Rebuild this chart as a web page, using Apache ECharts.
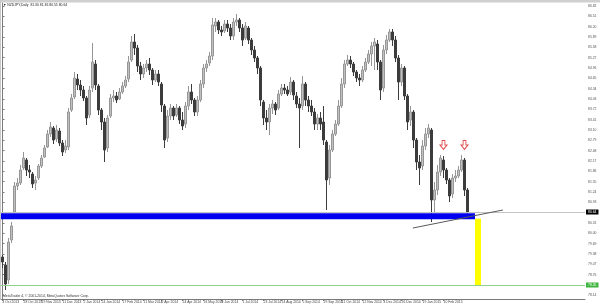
<!DOCTYPE html>
<html><head><meta charset="utf-8">
<script src="https://cdn.jsdelivr.net/npm/echarts@6/dist/echarts.min.js"></script>
<style>html,body{margin:0;padding:0;background:#fff}#c{width:600px;height:305px}</style>
</head><body><div id="c"></div>
<script>
const symbolTitle = 'NZDJPY,Daily';
const opens = [79.29,79.05,78.60,79.80,80.64,81.42,81.51,81.96,82.20,81.90,
81.78,81.51,81.66,82.02,82.29,82.59,82.98,83.16,82.83,83.07,
82.71,82.50,82.59,83.70,84.09,84.63,84.45,84.30,84.06,83.55,
84.36,85.08,84.42,83.70,83.34,82.56,83.52,84.06,84.12,84.03,
84.24,84.42,84.63,85.20,85.74,85.56,85.02,84.78,84.96,85.08,
84.90,84.60,84.78,84.48,83.82,82.86,83.52,83.76,83.55,83.76,
83.40,83.28,83.82,84.24,84.00,83.64,84.00,84.48,84.96,85.11,
85.32,86.22,86.34,86.10,86.07,86.28,86.16,85.92,86.34,86.40,
86.16,85.86,86.16,85.80,85.50,85.26,84.96,83.94,83.46,83.34,
83.76,83.88,83.76,84.18,84.36,84.30,84.24,84.54,84.12,83.88,
83.82,84.48,84.00,83.82,83.64,83.28,83.46,83.34,82.74,81.66,
82.50,82.98,83.28,83.82,84.48,85.08,85.20,85.08,84.84,84.66,
84.60,84.90,85.14,85.38,85.62,85.68,85.14,84.36,85.50,85.80,
86.04,85.80,85.26,84.54,84.96,84.12,83.40,83.64,82.80,82.14,
82.02,82.62,82.98,83.10,81.00,81.30,81.84,82.20,81.90,81.60,
81.18,81.66,81.72,81.90,82.20,81.30];
const closes = [79.14,78.48,79.74,80.22,81.42,81.51,81.90,82.26,81.90,81.84,
81.48,81.60,82.02,82.26,82.56,82.98,83.19,82.80,83.10,82.71,
82.44,82.62,83.64,84.06,84.66,84.45,84.30,84.06,83.46,84.30,
85.14,84.45,83.70,83.34,82.50,83.46,84.06,84.12,84.00,84.24,
84.42,84.60,85.14,85.74,85.56,85.02,84.78,84.96,85.08,84.90,
84.60,84.78,84.54,83.85,82.80,83.52,83.76,83.52,83.76,83.40,
83.22,83.82,84.24,84.00,83.64,84.00,84.48,84.96,85.08,85.32,
86.25,86.34,86.10,86.04,86.28,86.16,85.92,86.34,86.40,86.16,
85.80,86.22,85.80,85.50,85.26,84.96,84.00,83.46,83.34,83.76,
83.88,83.70,84.18,84.36,84.30,84.18,84.54,84.15,83.88,83.76,
84.48,84.00,83.82,83.64,83.28,83.46,83.28,82.80,81.60,82.50,
82.98,83.28,83.82,84.48,85.08,85.20,85.08,84.84,84.66,84.60,
84.90,85.14,85.38,85.62,85.74,85.14,84.30,85.50,85.80,86.04,
85.80,85.26,84.54,84.96,84.12,83.34,83.64,82.80,82.14,81.96,
82.62,82.98,83.16,81.00,81.30,81.84,82.26,81.90,81.60,81.12,
81.66,81.72,81.90,82.20,81.30,80.64];
const lows = [78.96,78.30,78.48,79.71,80.52,81.30,81.45,81.90,81.72,81.66,
81.36,81.30,81.60,81.96,82.26,82.56,82.89,82.68,82.74,82.62,
82.32,82.41,82.50,83.64,84.03,84.30,84.12,83.97,83.25,83.46,
84.24,84.30,83.55,83.10,82.14,82.44,83.46,83.94,83.91,84.00,
84.18,84.36,84.54,85.14,85.35,84.84,84.60,84.66,84.84,84.75,
84.45,84.54,84.42,83.64,82.56,82.74,83.40,83.40,83.49,83.28,
83.10,83.16,83.70,83.88,83.52,83.52,83.94,84.36,84.84,85.02,
85.20,86.04,85.98,85.92,86.01,86.04,85.80,85.80,86.22,86.04,
85.62,85.80,85.68,85.35,85.14,84.78,83.82,83.25,83.10,82.95,
83.58,83.55,83.70,84.12,84.18,84.12,84.15,84.00,83.76,82.56,
83.70,83.82,83.64,83.52,83.10,83.10,83.10,82.65,80.70,81.45,
82.44,82.92,83.22,83.76,84.36,85.02,84.96,84.72,84.54,84.42,
84.54,84.84,85.08,85.02,84.90,84.90,84.00,84.24,85.38,85.74,
85.62,85.14,84.00,84.42,84.00,83.10,83.22,82.56,81.90,81.45,
81.90,82.50,82.86,80.34,80.55,81.15,81.72,81.66,81.48,80.94,
81.06,81.54,81.66,81.84,81.12,80.55];
const highs = [79.35,79.14,79.86,80.34,81.54,81.66,82.05,82.44,82.26,82.05,
81.84,81.72,82.08,82.35,82.65,83.10,83.34,83.22,83.25,83.16,
82.80,82.80,83.76,84.18,84.84,84.78,84.60,84.42,84.12,84.42,
85.71,85.20,84.48,83.76,83.46,83.55,84.18,84.30,84.24,84.36,
84.54,84.72,85.32,85.92,85.98,85.65,85.14,85.08,85.20,85.26,
84.96,84.90,84.90,84.54,83.88,83.70,83.88,83.82,83.88,83.82,
83.64,83.94,84.42,84.48,84.06,84.12,84.60,85.08,85.20,85.44,
86.46,86.46,86.40,86.22,86.40,86.40,86.28,86.46,86.58,86.46,
86.28,86.34,86.22,85.86,85.62,85.32,85.02,84.00,83.70,83.88,
84.00,83.94,84.30,84.48,84.48,84.42,84.69,84.60,84.24,84.06,
84.72,84.54,84.12,84.00,83.76,83.58,83.64,83.82,82.80,82.65,
83.10,83.40,84.00,84.66,85.20,85.35,85.32,85.14,84.90,84.78,
85.02,85.26,85.50,85.74,85.86,85.80,85.20,85.65,85.95,86.13,
86.13,85.92,85.35,85.08,85.02,84.18,83.82,83.70,82.86,82.35,
82.80,83.16,83.28,83.16,81.54,82.05,82.35,82.32,81.96,81.66,
81.78,81.90,82.02,82.35,82.26,81.36];

const priceTicks = [86.82,86.51,86.20,85.89,85.58,85.27,84.96,84.65,84.34,84.03,
83.72,83.41,83.10,82.79,82.48,82.17,81.86,81.55,81.24,80.93,
80.62,80.31,80.00,79.69,79.38,79.07,78.76,78.45,78.14];
const dateLabelBars = [0,7,13,20,27,33,40,47,53,60,67,73,80,87,93,100,107,113,120,127,133,140,147,153];
const dateLabels = ['4 Oct 2013','28 Oct 2013','19 Nov 2013','11 Dec 2013','2 Jan 2014','24 Jan 2014',
'17 Feb 2014','11 Mar 2014','2 Apr 2014','24 Apr 2014','16 May 2014','9 Jun 2014','1 Jul 2014',
'23 Jul 2014','14 Aug 2014','5 Sep 2014','29 Sep 2014','21 Oct 2014','12 Nov 2014','4 Dec 2014',
'26 Dec 2014','19 Jan 2015','10 Feb 2015','4 Mar 2015'];

// annotations (data coordinates: bar index, price)
const supportBand = [80.42, 80.60];
const supportBandBars = [-0.5, 157.5];
const targetBox = [78.45, 80.44];
const targetBoxBars = [157.5, 159.5];
const targetLevel = 78.45;
const trendLinePts = [[136.8, 80.16], [166.8, 80.70]];
const arrowBars = [147, 154];
const arrowPrice = 82.65;

const n = closes.length;
const bidLevel = closes[n - 1];
const candles = opens.map((o, i) => [i, o, closes[i], lows[i], highs[i]]);
const f2 = v => v.toFixed(2);

const chart = echarts.init(document.getElementById('c'), null, {renderer: 'canvas'});
const FONT = 'Liberation Sans';
const FS = 3.4;
chart.setOption({
  animation: false,
  backgroundColor: '#ffffff',
  textStyle: {fontFamily: FONT},
  grid: {left: 1, top: 3, right: 15, bottom: 6, containLabel: false, outerBoundsMode: 'none'},
  xAxis: {
    type: 'value', min: -0.5, max: 194.17,
    axisLine: {show: true, onZero: false, lineStyle: {color: '#7a7a7a', width: 1}},
    axisTick: {show: true, length: 2, customValues: dateLabelBars, lineStyle: {color: '#7a7a7a'}},
    axisLabel: {show: true, customValues: dateLabelBars, fontSize: FS, color: '#444', margin: 2, align: 'left',
      showMinLabel: true, hideOverlap: false,
      formatter: v => { const k = dateLabelBars.indexOf(v); return k >= 0 ? dateLabels[k] : ''; }},
    splitLine: {show: false}
  },
  yAxis: {
    type: 'value', position: 'right', min: 78.03, max: 86.91, scale: true,
    axisLine: {show: true, lineStyle: {color: '#7a7a7a', width: 1}},
    axisTick: {show: true, length: 2, customValues: priceTicks, lineStyle: {color: '#7a7a7a'}},
    axisLabel: {show: true, customValues: priceTicks, fontSize: FS, color: '#555', margin: 3, formatter: f2},
    splitLine: {show: false}
  },
  series: [{
    type: 'candlestick',
    data: candles,
    barWidth: 2,
    itemStyle: {color: '#c0c0c0', borderColor: '#969696', color0: '#3c3c3c', borderColor0: '#3c3c3c', borderWidth: 1},
    markArea: {
      silent: true, z: 6,
      data: [
        [{xAxis: supportBandBars[0], yAxis: supportBand[1], itemStyle: {color: '#0000f0', opacity: 1}},
         {xAxis: supportBandBars[1], yAxis: supportBand[0]}],
        [{xAxis: targetBoxBars[0], yAxis: targetBox[1], itemStyle: {color: '#ffff00', opacity: 1}},
         {xAxis: targetBoxBars[1], yAxis: targetBox[0]}]
      ]
    },
    markLine: {
      silent: true, z: 7, symbol: ['none', 'none'], animation: false,
      data: [
        {yAxis: bidLevel, lineStyle: {color: '#c4c4c4', width: 1, type: 'solid'},
         label: {show: true, position: 'end', formatter: p => f2(p.value), fontSize: FS, color: '#fff',
                 backgroundColor: '#000', padding: [1, 2], distance: 1}},
        {yAxis: targetLevel, lineStyle: {color: '#8fcf8f', width: 1, type: 'solid'},
         label: {show: true, position: 'end', formatter: p => f2(p.value), fontSize: FS, color: '#fff',
                 backgroundColor: '#3cb43c', padding: [1, 2], distance: 1}},
        [{coord: trendLinePts[0], lineStyle: {color: '#5a5a5a', width: 1, type: 'solid'}, label: {show: false}},
         {coord: trendLinePts[1]}]
      ]
    },
    markPoint: {
      silent: true, z: 8,
      symbol: 'path://M3,0 L7,0 L7,6 L10,6 L5,12 L0,6 L3,6 Z',
      symbolSize: [7, 9],
      itemStyle: {color: '#ffffff', borderColor: '#e05050', borderWidth: 1},
      label: {show: false},
      data: arrowBars.map(b => ({coord: [b, arrowPrice]}))
    }
  }],
  graphic: [
    {type: 'rect', left: 0, top: 0, shape: {width: 600, height: 2.5}, style: {fill: '#cfcfcf'}, silent: true},
    {type: 'rect', left: 0, top: 0, shape: {width: 1, height: 299}, style: {fill: '#c8c8c8'}, silent: true},
    {type: 'text', left: 3, top: 4, style: {text: '\u25BC ' + symbolTitle + '  ' + [opens[n-1], highs[n-1], lows[n-1], closes[n-1]].map(f2).join(' '),
      fontSize: FS, fill: '#222', fontFamily: FONT}, silent: true},
    {type: 'text', left: 3, top: 295, style: {text: 'MetaTrader 4, \u00A9 2001-2014, MetaQuotes Software Corp.',
      fontSize: FS, fill: '#333', fontFamily: FONT}, silent: true}
  ]
});
</script>
</body></html>
